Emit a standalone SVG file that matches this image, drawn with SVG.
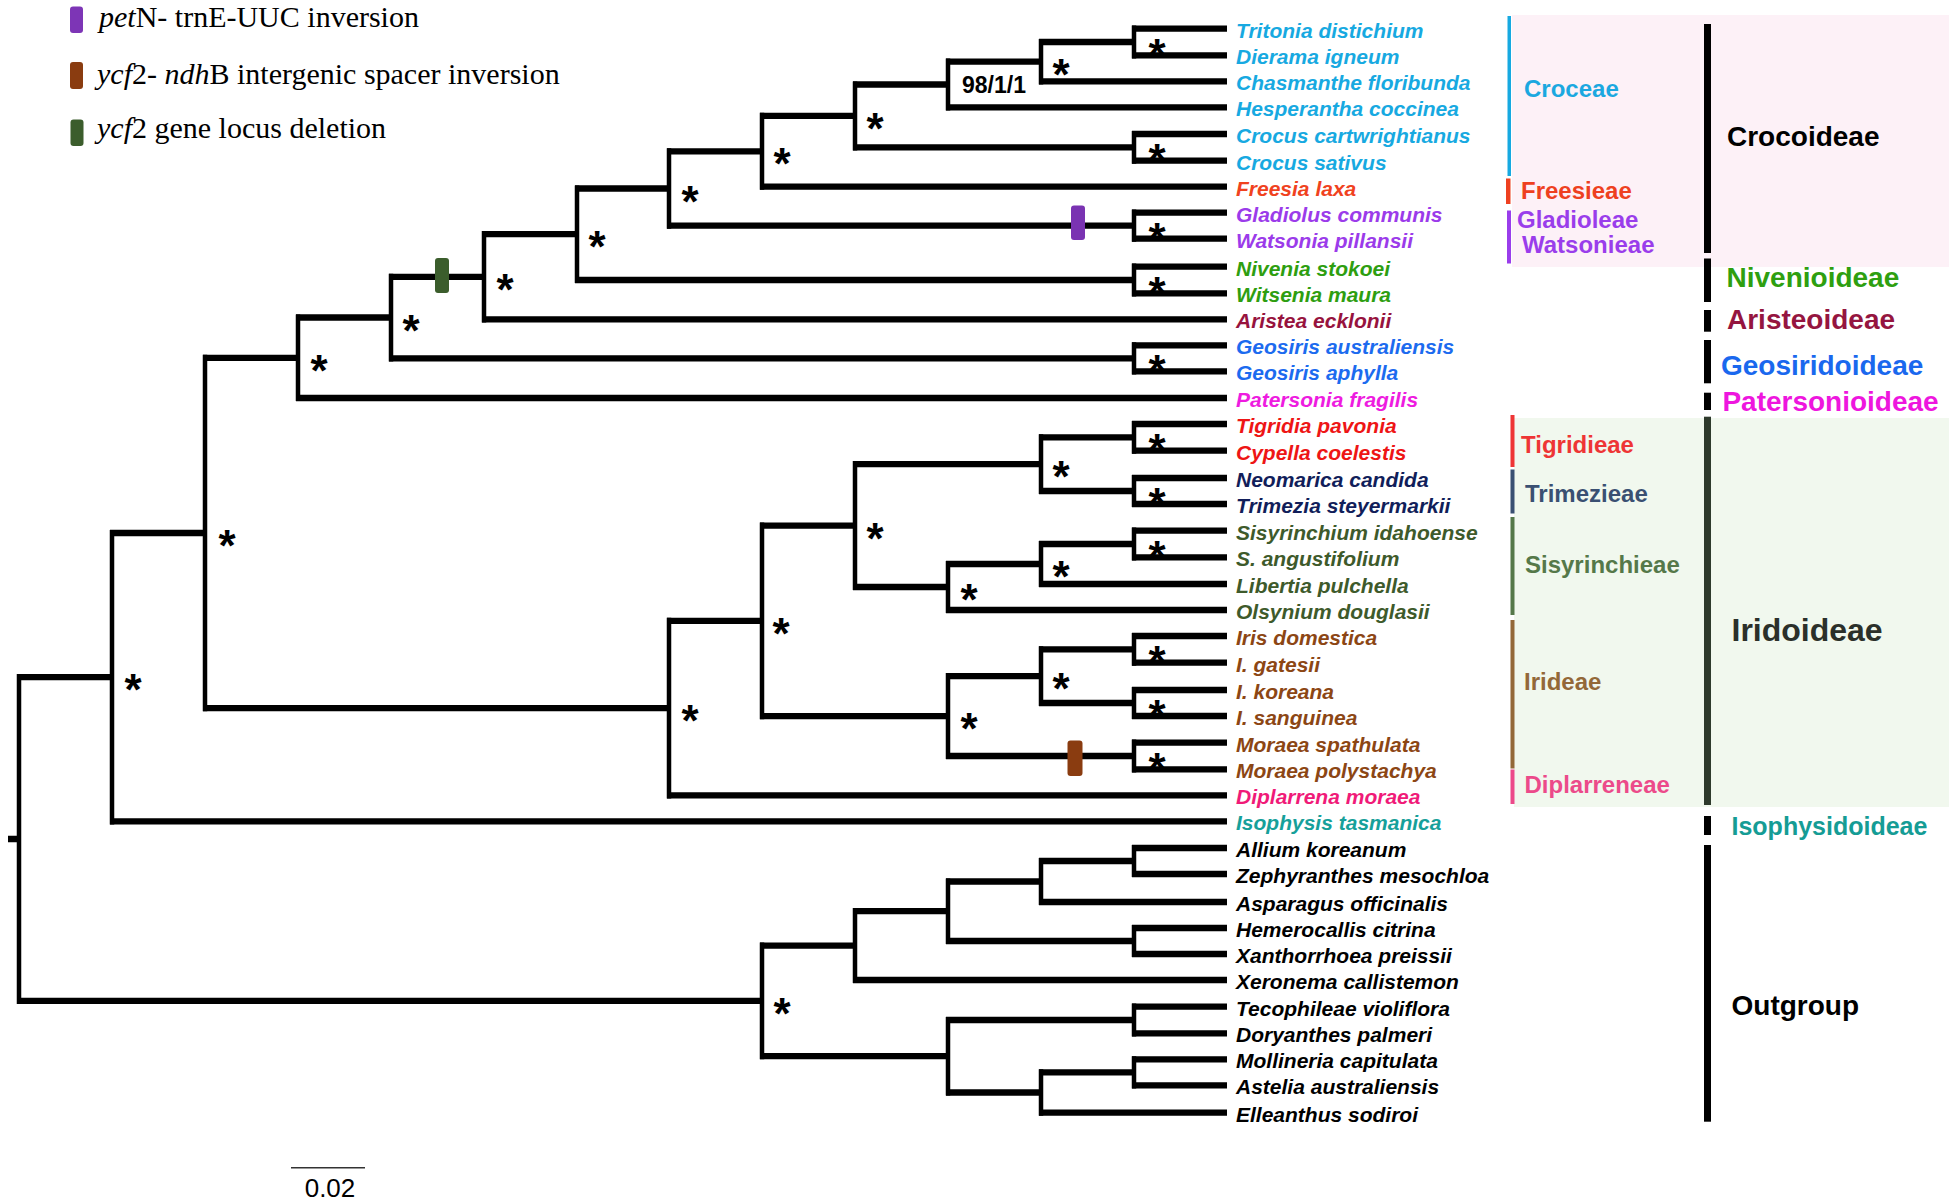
<svg xmlns="http://www.w3.org/2000/svg" width="1949" height="1201" viewBox="0 0 1949 1201">
<style>
.h{stroke:#000;stroke-width:6.3;fill:none}
.v{stroke:#000;stroke-width:4.5;fill:none}
.tx{font-family:"Liberation Sans",Arial,sans-serif;font-weight:bold;font-style:italic;font-size:21px}
.ast{font-family:"Liberation Sans",Arial,sans-serif;font-weight:bold;font-size:44px;text-anchor:middle;fill:#000}
.tr{font-family:"Liberation Sans",Arial,sans-serif;font-weight:bold;font-size:24px}
.sf{font-family:"Liberation Sans",Arial,sans-serif;font-weight:bold;font-size:28px}
.lg{font-family:"Liberation Serif","Times New Roman",serif;font-size:30px;fill:#000}
.it{font-style:italic}
.c1{fill:#17A9E1}.c2{fill:#F0421E}.c3{fill:#9B3BEA}.c4{fill:#2E9E10}.c5{fill:#97133E}.c6{fill:#1C6BEF}.c7{fill:#EE1BE0}.c8{fill:#EE1515}.c9{fill:#111E5A}.c10{fill:#3E5A2B}.c11{fill:#8C4614}.c12{fill:#F01A78}.c13{fill:#16A09A}.c14{fill:#000}
</style>
<rect width="1949" height="1201" fill="#fff"/>
<g id="backgrounds">
<rect x="1512" y="15" width="437" height="252" fill="#FDF1F7"/>
<rect x="1514" y="418" width="435" height="389" fill="#F1F8EE"/>
</g>
<g id="legend">
<rect x="70" y="6.5" width="13" height="26.5" rx="3" fill="#7D35B6"/>
<text class="lg" x="99" y="27"><tspan class="it">pet</tspan>N- trnE-UUC inversion</text>
<rect x="70" y="62" width="13" height="27" rx="3" fill="#8A3C10"/>
<text class="lg" x="97" y="84"><tspan class="it">ycf</tspan>2- <tspan class="it">ndh</tspan>B intergenic spacer inversion</text>
<rect x="70.5" y="119.5" width="13" height="26.5" rx="3" fill="#3B5D2C"/>
<text class="lg" x="97" y="138"><tspan class="it">ycf</tspan>2 gene locus deletion</text>
</g>
<g id="connectors">
<path class="h" d="M8 839H19 M17 677.2H112 M17 1000.9H762 M110 533H205 M110 821.3H1227 M203 357.8H298 M203 708.1H669 M296 317.5H391 M296 398H1227 M389 276.8H484 M389 358.3H1134 M482 234.2H577 M482 319.3H1227 M575 188.5H669 M575 280H1134 M667 151.3H762 M667 225.7H1134 M760 115.9H855 M760 186.7H1227 M853 84.5H948 M853 147.3H1134 M946 61.7H1041 M946 107.3H1227 M1039 42H1134 M1039 81.3H1227 M1132 28.7H1227 M1132 55.3H1227 M1132 134H1227 M1132 160.7H1227 M1132 212.7H1227 M1132 238.7H1227 M1132 266.7H1227 M1132 293.3H1227 M1132 345.3H1227 M1132 371.3H1227"/>
<path class="h" d="M667 620.9H762 M667 795.3H1227 M760 525.6H855 M760 716.1H948 M853 464.2H1041 M853 587H948 M1039 437.3H1134 M1039 491H1134 M946 564H1041 M946 610H1227 M1039 544H1134 M1039 584H1227 M946 676.2H1041 M946 756H1134 M1039 649.3H1134 M1039 703H1134 M1132 424H1227 M1132 450.7H1227 M1132 478H1227 M1132 504H1227 M1132 530.7H1227 M1132 557.3H1227 M1132 636H1227 M1132 662.7H1227 M1132 690H1227 M1132 716H1227 M1132 742.7H1227 M1132 769.3H1227"/>
<path class="h" d="M760 945.6H855 M760 1056.2H948 M853 911.2H948 M853 980H1227 M946 881.5H1041 M946 941H1134 M1039 861H1134 M1039 902H1227 M946 1020H1134 M946 1092.5H1041 M1039 1072.3H1134 M1039 1112.7H1227 M1132 848H1227 M1132 874H1227 M1132 928H1227 M1132 954H1227 M1132 1006.7H1227 M1132 1033.3H1227 M1132 1059.3H1227 M1132 1085.3H1227"/>
<path class="v" d="M19 674V1004 M112 530V824.5 M205 354.7V711.2 M298 314.4V401.1 M391 273.7V361.4 M484 231.1V322.4 M577 185.4V283.1 M669 148.2V228.8 M762 112.8V189.8 M855 81.4V150.4 M948 58.6V110.4 M1041 38.9V84.4 M1134 25.6V58.4 M1134 130.9V163.8 M1134 209.6V241.8 M1134 263.6V296.4 M1134 342.2V374.4"/>
<path class="v" d="M669 617.8V798.4 M762 522.5V719.2 M855 461.1V590.1 M1041 434.2V494.1 M1134 420.9V453.8 M1134 474.9V507.1 M948 560.9V613.1 M1041 540.9V587.1 M1134 527.6V560.4 M948 673.1V759.1 M1041 646.2V706.1 M1134 632.9V665.8 M1134 686.9V719.1 M1134 739.6V772.4"/>
<path class="v" d="M762 942.5V1059.3 M855 908.1V983.1 M948 878.4V944.1 M1041 857.9V905.1 M1134 844.9V877.1 M1134 924.9V957.1 M948 1016.9V1095.6 M1134 1003.6V1036.4 M1041 1069.2V1115.8 M1134 1056.2V1088.4"/>
</g>
<g id="markers">
<rect x="1071" y="205.5" width="14" height="34.5" rx="3" fill="#7A33B2"/>
<rect x="1067.5" y="740.5" width="15" height="35.5" rx="3" fill="#8A3C10"/>
<rect x="435" y="258" width="14" height="35" rx="3" fill="#3B5D2C"/>
</g>
<g id="support">
<text class="ast" x="1157" y="70">*</text>
<text class="ast" x="1157" y="175.3">*</text>
<text class="ast" x="1157" y="253.7">*</text>
<text class="ast" x="1157" y="308">*</text>
<text class="ast" x="1157" y="386.3">*</text>
<text class="ast" x="1157" y="465.3">*</text>
<text class="ast" x="1157" y="519">*</text>
<text class="ast" x="1157" y="572">*</text>
<text class="ast" x="1157" y="677.3">*</text>
<text class="ast" x="1157" y="731">*</text>
<text class="ast" x="1157" y="784">*</text>
<text class="ast" x="1061" y="89.7">*</text>
<text class="ast" x="875" y="143.9">*</text>
<text class="ast" x="782" y="179.3">*</text>
<text class="ast" x="690" y="216.5">*</text>
<text class="ast" x="597" y="262.2">*</text>
<text class="ast" x="505" y="304.8">*</text>
<text class="ast" x="411" y="345.5">*</text>
<text class="ast" x="319" y="385.8">*</text>
<text class="ast" x="227" y="561">*</text>
<text class="ast" x="133" y="705.2">*</text>
<text class="ast" x="1061" y="492.2">*</text>
<text class="ast" x="1061" y="592">*</text>
<text class="ast" x="969" y="615">*</text>
<text class="ast" x="875" y="553.6">*</text>
<text class="ast" x="1061" y="704.2">*</text>
<text class="ast" x="969" y="744.1">*</text>
<text class="ast" x="781" y="648.9">*</text>
<text class="ast" x="690" y="736.1">*</text>
<text class="ast" x="782" y="1028.9">*</text>
<text x="962" y="93" font-family="Liberation Sans, Arial, sans-serif" font-weight="bold" font-size="23">98/1/1</text>
</g>
<g id="taxa">
<g id="t1"><text class="tx c1" x="1236" y="37.7">Tritonia distichium</text></g>
<g id="t2"><text class="tx c1" x="1236" y="64.3">Dierama igneum</text></g>
<g id="t3"><text class="tx c1" x="1236" y="90.3">Chasmanthe floribunda</text></g>
<g id="t4"><text class="tx c1" x="1236" y="116.3">Hesperantha coccinea</text></g>
<g id="t5"><text class="tx c1" x="1236" y="143">Crocus cartwrightianus</text></g>
<g id="t6"><text class="tx c1" x="1236" y="169.7">Crocus sativus</text></g>
<g id="t7"><text class="tx c2" x="1236" y="195.7">Freesia laxa</text></g>
<g id="t8"><text class="tx c3" x="1236" y="221.7">Gladiolus communis</text></g>
<g id="t9"><text class="tx c3" x="1236" y="247.7">Watsonia pillansii</text></g>
<g id="t10"><text class="tx c4" x="1236" y="275.7">Nivenia stokoei</text></g>
<g id="t11"><text class="tx c4" x="1236" y="302.3">Witsenia maura</text></g>
<g id="t12"><text class="tx c5" x="1236" y="328.3">Aristea ecklonii</text></g>
<g id="t13"><text class="tx c6" x="1236" y="354.3">Geosiris australiensis</text></g>
<g id="t14"><text class="tx c6" x="1236" y="380.3">Geosiris aphylla</text></g>
<g id="t15"><text class="tx c7" x="1236" y="407">Patersonia fragilis</text></g>
<g id="t16"><text class="tx c8" x="1236" y="433">Tigridia pavonia</text></g>
<g id="t17"><text class="tx c8" x="1236" y="459.7">Cypella coelestis</text></g>
<g id="t18"><text class="tx c9" x="1236" y="487">Neomarica candida</text></g>
<g id="t19"><text class="tx c9" x="1236" y="513">Trimezia steyermarkii</text></g>
<g id="t20"><text class="tx c10" x="1236" y="539.7">Sisyrinchium idahoense</text></g>
<g id="t21"><text class="tx c10" x="1236" y="566.3">S. angustifolium</text></g>
<g id="t22"><text class="tx c10" x="1236" y="593">Libertia pulchella</text></g>
<g id="t23"><text class="tx c10" x="1236" y="619">Olsynium douglasii</text></g>
<g id="t24"><text class="tx c11" x="1236" y="645">Iris domestica</text></g>
<g id="t25"><text class="tx c11" x="1236" y="671.7">I. gatesii</text></g>
<g id="t26"><text class="tx c11" x="1236" y="699">I. koreana</text></g>
<g id="t27"><text class="tx c11" x="1236" y="725">I. sanguinea</text></g>
<g id="t28"><text class="tx c11" x="1236" y="751.7">Moraea spathulata</text></g>
<g id="t29"><text class="tx c11" x="1236" y="778.3">Moraea polystachya</text></g>
<g id="t30"><text class="tx c12" x="1236" y="804.3">Diplarrena moraea</text></g>
<g id="t31"><text class="tx c13" x="1236" y="830.3">Isophysis tasmanica</text></g>
<g id="t32"><text class="tx c14" x="1236" y="857">Allium koreanum</text></g>
<g id="t33"><text class="tx c14" x="1236" y="883">Zephyranthes mesochloa</text></g>
<g id="t34"><text class="tx c14" x="1236" y="911">Asparagus officinalis</text></g>
<g id="t35"><text class="tx c14" x="1236" y="937">Hemerocallis citrina</text></g>
<g id="t36"><text class="tx c14" x="1236" y="963">Xanthorrhoea preissii</text></g>
<g id="t37"><text class="tx c14" x="1236" y="989">Xeronema callistemon</text></g>
<g id="t38"><text class="tx c14" x="1236" y="1015.7">Tecophileae violiflora</text></g>
<g id="t39"><text class="tx c14" x="1236" y="1042.3">Doryanthes palmeri</text></g>
<g id="t40"><text class="tx c14" x="1236" y="1068.3">Mollineria capitulata</text></g>
<g id="t41"><text class="tx c14" x="1236" y="1094.3">Astelia australiensis</text></g>
<g id="t42"><text class="tx c14" x="1236" y="1121.7">Elleanthus sodiroi</text></g>
</g>
<g id="tribes">
<g id="croceae"><rect x="1507.5" y="16" width="3.5" height="160" fill="#17A9E1"/><text class="tr" x="1524" y="96.7" fill="#1BA8E0">Croceae</text></g>
<g id="freesieae"><rect x="1506" y="178.5" width="4.5" height="25.5" fill="#EE4020"/><text class="tr" x="1521" y="199.3" fill="#EE4020">Freesieae</text></g>
<g id="gladioleae"><rect x="1507" y="210.5" width="4" height="53" fill="#9A3DEB"/><text class="tr" x="1517" y="228.3" fill="#9A3DEB">Gladioleae</text><text class="tr" x="1522" y="253.3" fill="#9A3DEB">Watsonieae</text></g>
<g id="tigridieae"><rect x="1510.5" y="415" width="4" height="52" fill="#EE3535"/><text class="tr" x="1521" y="453.3" fill="#EE3535">Tigridieae</text></g>
<g id="trimezieae"><rect x="1510.5" y="469.5" width="4" height="44" fill="#3A5072"/><text class="tr" x="1525" y="501.7" fill="#3A5072">Trimezieae</text></g>
<g id="sisyrinchieae"><rect x="1510.5" y="517" width="4" height="98" fill="#557849"/><text class="tr" x="1525" y="573.3" fill="#557849">Sisyrinchieae</text></g>
<g id="irideae"><rect x="1510.5" y="620" width="4" height="148.5" fill="#936838"/><text class="tr" x="1524" y="690" fill="#936838">Irideae</text></g>
<g id="diplarreneae"><rect x="1510.5" y="769.5" width="4" height="34.5" fill="#EC4A8A"/><text class="tr" x="1524.5" y="792.7" fill="#EC4A8A">Diplarreneae</text></g>
</g>
<g id="subfamilies">
<g id="crocoideae"><rect x="1704" y="24" width="7" height="229" fill="#000"/><text class="sf" x="1727" y="145.7" fill="#000">Crocoideae</text></g>
<g id="nivenioideae"><rect x="1704" y="258.5" width="7" height="43.5" fill="#000"/><text class="sf" x="1726.5" y="287.3" fill="#2E9F10">Nivenioideae</text></g>
<g id="aristeoideae"><rect x="1704" y="310" width="7" height="21.7" fill="#000"/><text class="sf" x="1727" y="329.3" fill="#951540">Aristeoideae</text></g>
<g id="geosiridoideae"><rect x="1704" y="340" width="7" height="43.3" fill="#000"/><text class="sf" x="1721" y="375" fill="#1A68EE">Geosiridoideae</text></g>
<g id="patersonioideae"><rect x="1704" y="392.7" width="7" height="17.3" fill="#000"/><text class="sf" x="1722.4" y="410.7" fill="#EE16DE">Patersonioideae</text></g>
<g id="iridoideae"><rect x="1704" y="416.7" width="7" height="388.3" fill="#2E3A2C"/><text class="sf" x="1731.5" y="641" style="font-size:32px" fill="#2B302A">Iridoideae</text></g>
<g id="isophysidoideae"><rect x="1704" y="816" width="7" height="19" fill="#000"/><text class="sf" x="1731.5" y="835" style="font-size:25px" fill="#159C95">Isophysidoideae</text></g>
<g id="outgroup"><rect x="1704" y="845" width="7" height="276.7" fill="#000"/><text class="sf" x="1731.5" y="1015" fill="#000">Outgroup</text></g>
</g>
<g id="scalebar">
<line x1="291" y1="1167.7" x2="365" y2="1167.7" stroke="#333" stroke-width="1.5"/>
<text x="330" y="1197" font-family="Liberation Sans, Arial, sans-serif" font-size="26" text-anchor="middle" fill="#000">0.02</text>
</g>
</svg>
